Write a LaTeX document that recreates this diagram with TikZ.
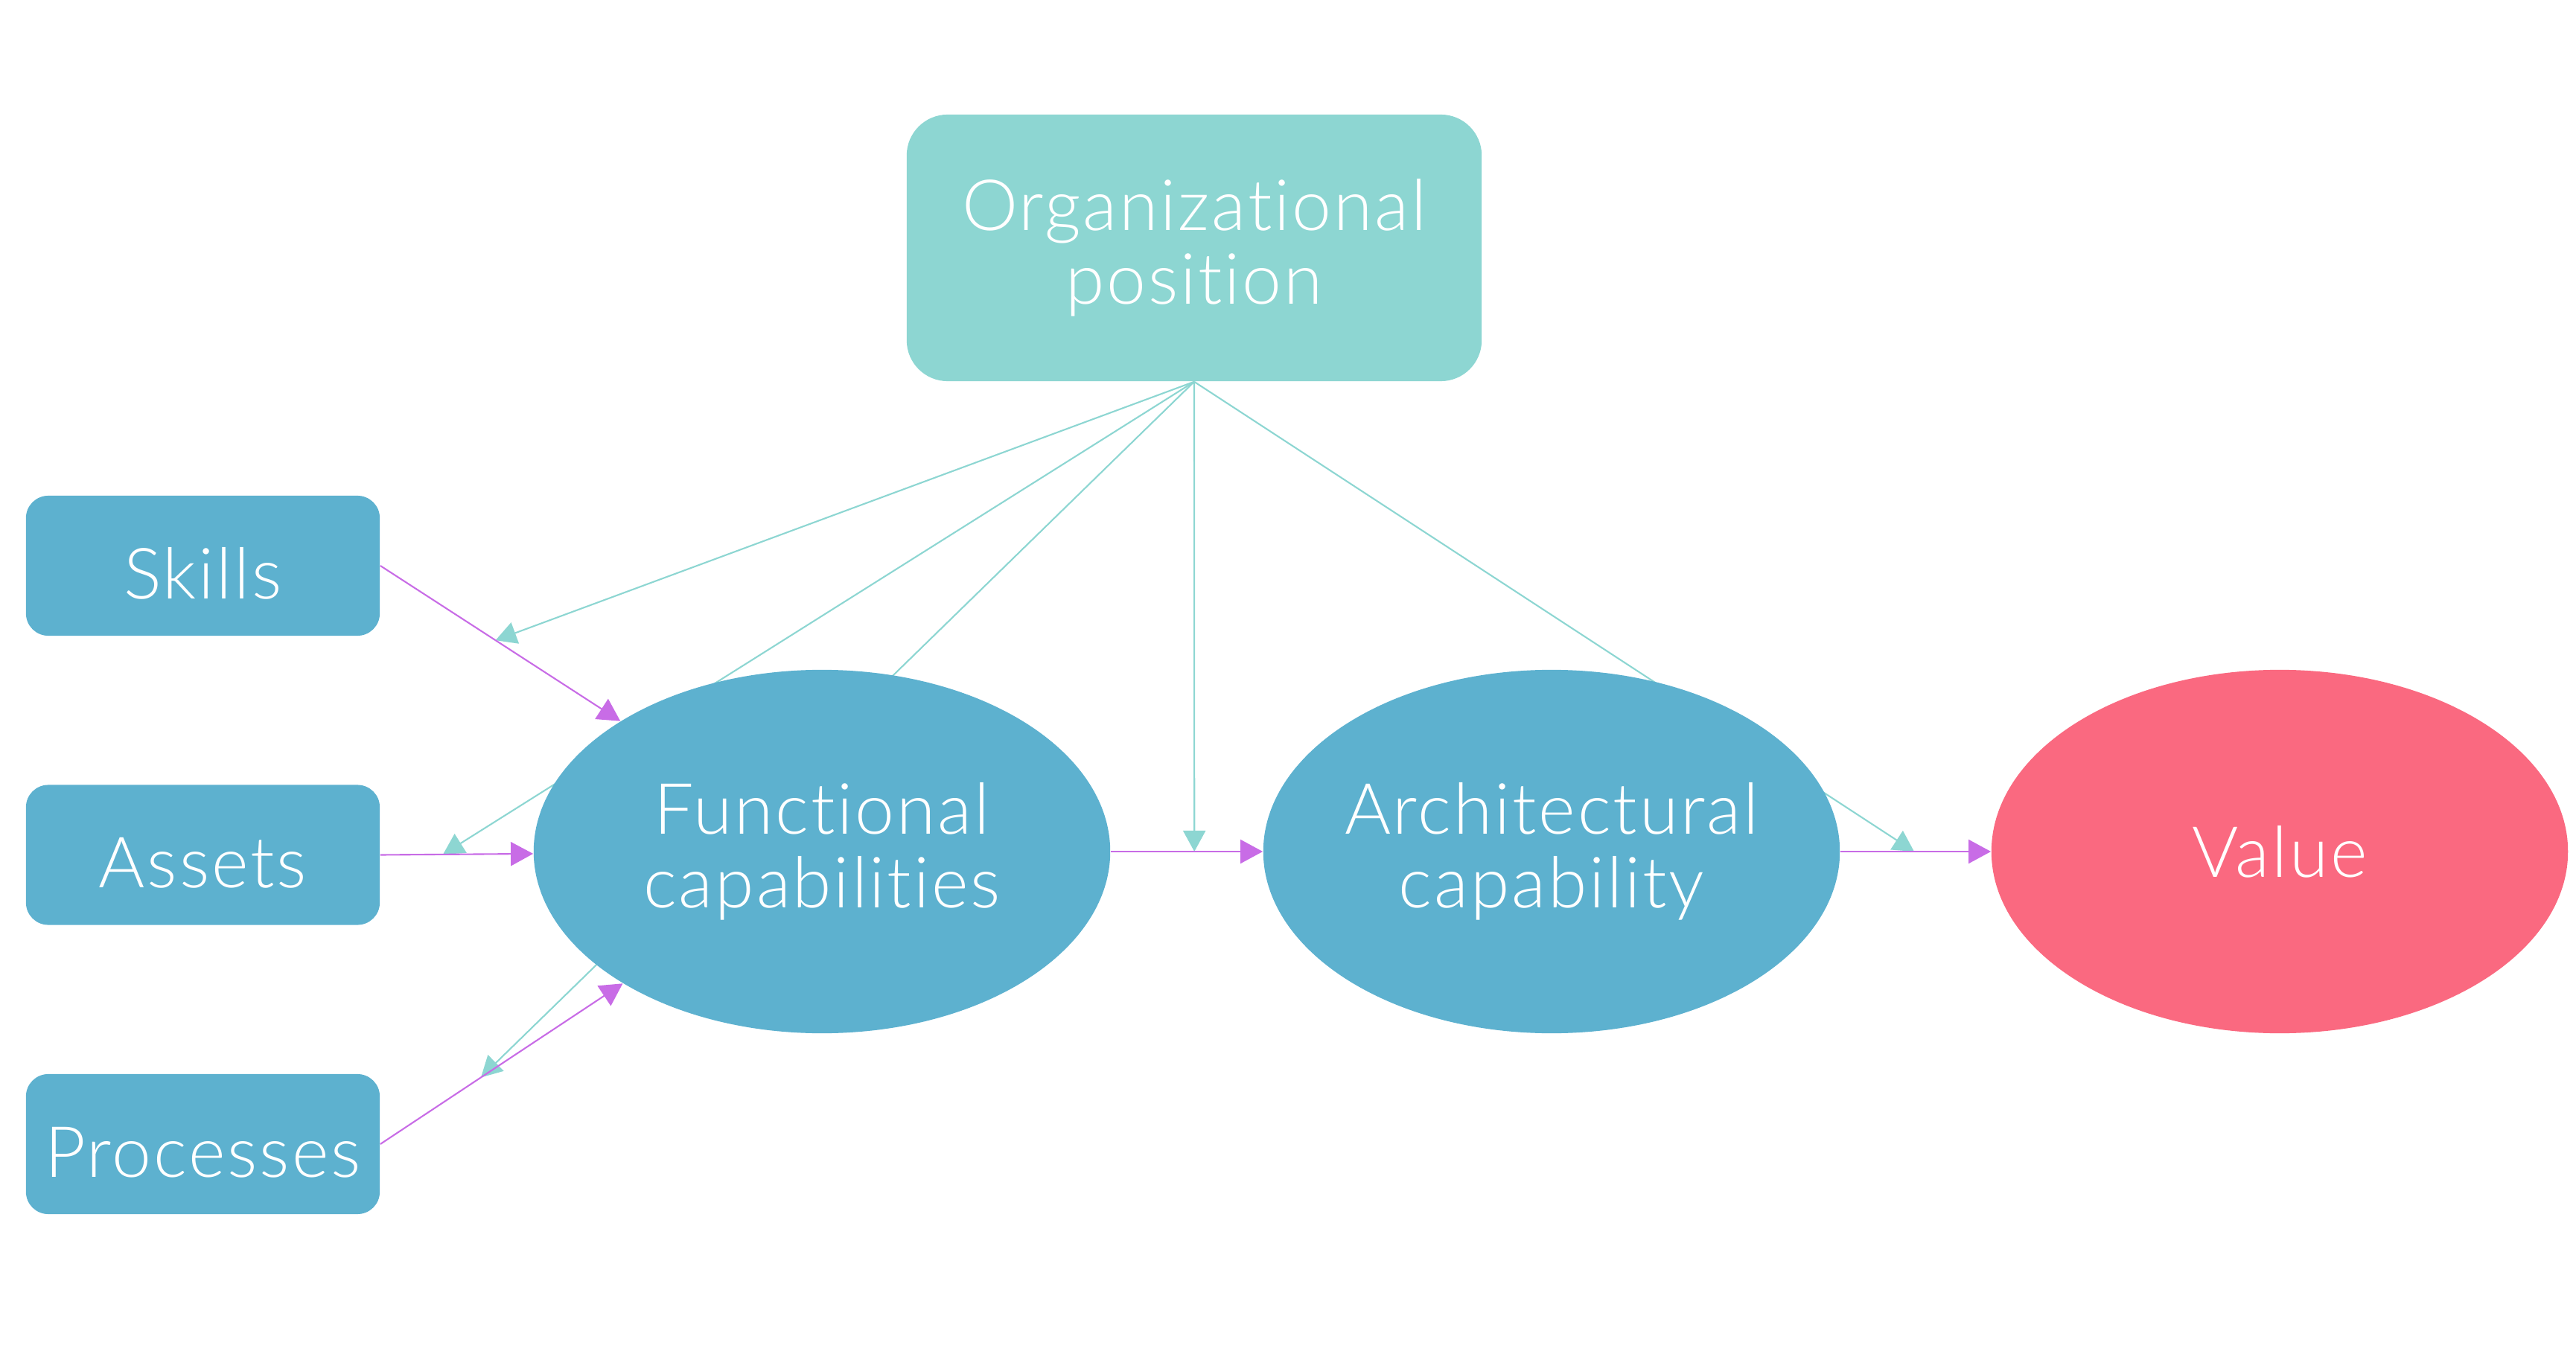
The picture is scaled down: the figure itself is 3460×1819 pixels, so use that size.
\documentclass[tikz,border=0pt]{standalone}
\usepackage{fontspec}
\setmainfont{Lato}[UprightFont=* Light,Ligatures={NoCommon},LetterSpace=3]
\usetikzlibrary{shapes.geometric,arrows.meta,calc}
\pgfdeclarelayer{background}
\pgfsetlayers{background,main}
\definecolor{tealc}{HTML}{8DD6D2}
\definecolor{bluec}{HTML}{5DB1CF}
\definecolor{purplec}{HTML}{C86CE6}
\definecolor{redc}{HTML}{FA6980}
\tikzset{
  lbl/.style={text=white,font=\fontsize{27}{28}\selectfont,align=center},
  orgbox/.style={lbl,fill=tealc,rounded corners=0.55cm,minimum width=7.72cm,minimum height=3.58cm,inner sep=0pt},
  smallbox/.style={lbl,fill=bluec,rounded corners=0.3cm,minimum width=4.75cm,minimum height=1.88cm,inner sep=0pt,text height=0.88cm,text depth=0pt},
  ell/.style={lbl,ellipse,minimum width=7.74cm,minimum height=4.88cm,inner ysep=0pt,inner xsep=-0.6cm},
  parrow/.style={draw=purplec,line width=0.6pt,-{Triangle[length=0.3cm,width=0.32cm]}},
  tarrow/.style={draw=tealc,line width=0.6pt,-{Triangle[length=0.28cm,width=0.3cm]}}
}
\begin{document}
\begin{tikzpicture}[x=0.01cm,y=-0.01cm]
\useasboundingbox (0,0) rectangle (3460,1819);
\node[orgbox] (org) at (1604,333) {Organizational\\position};
\node[smallbox] (skills) at (272.5,760) {Skills};
\node[smallbox] (assets) at (272.5,1148.5) {Assets};
\node[smallbox] (proc) at (272.5,1537) {Processes};
\node[ell,fill=bluec] (func) at (1104,1144) {Functional\\capabilities};
\node[ell,fill=bluec] (arch) at (2084,1144) {Architectural\\capability};
\node[ell,fill=redc] (value) at (3062,1144) {Value};
\draw[parrow] (skills.east) -- coordinate[pos=0.48] (m1) (func);
\draw[parrow] (assets.east) -- coordinate[pos=0.41] (m2) (func);
\draw[parrow] (proc.east) -- coordinate[pos=0.415] (m3) (func);
\draw[parrow] (func) -- coordinate[pos=0.55] (m4) (arch);
\draw[parrow] (arch) -- coordinate[pos=0.49] (m5) (value);
\begin{pgfonlayer}{background}
\draw[tarrow] (org.south) -- (m1);
\draw[tarrow] (org.south) -- (m2);
\draw[tarrow] (org.south) -- (m3);
\draw[tarrow] (org.south) -- (m4);
\draw[tarrow] (org.south) -- (m5);
\end{pgfonlayer}
\end{tikzpicture}
\end{document}
